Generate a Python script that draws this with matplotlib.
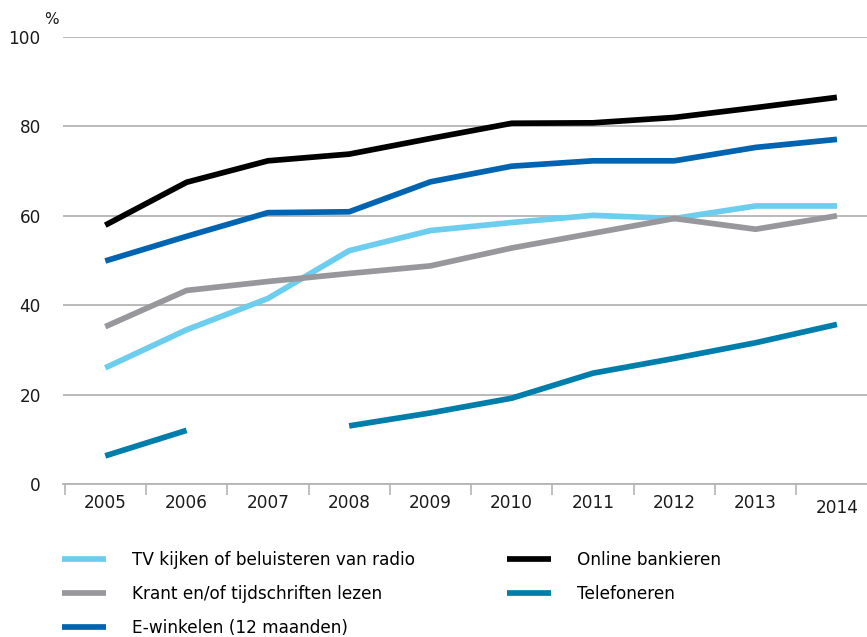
import numpy as np
import matplotlib
matplotlib.use('Agg')
import matplotlib.pyplot as plt

years = ['2005', '2006', '2007', '2008', '2009', '2010', '2011', '2012', '2013', '2014']

tv_radio = [26, 34.5, 41.5, 52.2, 56.7, 58.5, 60.1, 59.4, 62.2, 62.2]
krant = [35.2, 43.3, 45.3, 47.1, 48.8, 52.8, 56.1, 59.4, 57.0, 60.0]
e_winkelen = [49.9, 55.4, 60.7, 60.9, 67.6, 71.1, 72.3, 72.3, 75.3, 77.1]
online_bank = [57.9, 67.5, 72.3, 73.8, 77.3, 80.7, 80.8, 82.0, 84.2, 86.5]
telefoneren = [6.3, 12.0, np.nan, 13.0, 15.9, 19.2, 24.8, 28.1, 31.6, 35.7]

labels = ['TV kijken of beluisteren van radio',
          'Krant en/of tijdschriften lezen',
          'E-winkelen (12 maanden)',
          'Online bankieren',
          'Telefoneren']
colors = ['#6ccdee', '#98989c', '#0064b0', '#000000', '#007eab']

plt.rcParams['font.family'] = ['DejaVu Sans']

fig = plt.figure(figsize=(8.67, 6.37), dpi=100)
ax = fig.add_axes([63 / 867, 1 - 484 / 637, 1 - 63 / 867, (484 - 37) / 637])

x = np.arange(len(years))
series = [tv_radio, krant, e_winkelen, online_bank, telefoneren]
for vals, lab, col in zip(series, labels, colors):
    ax.plot(x, vals, color=col, lw=4.1, label=lab, solid_capstyle='butt',
            solid_joinstyle='round')

ax.set_ylim(0, 100)
ax.set_xlim(-0.52, 9.37)
ax.set_yticks(range(0, 101, 20))
ax.yaxis.grid(True, color='#b4b4b4', lw=1.3)
ax.set_axisbelow(True)
ax.tick_params(axis='y', length=0, pad=16, labelsize=12.2, colors='#1a1a1a')

ax.set_xticks(x)
ax.set_xticklabels(years)
ax.set_xticks(np.arange(-0.5, 9, 1), minor=True)
ax.tick_params(axis='x', which='major', length=0, pad=7, labelsize=12.2,
               colors='#1a1a1a')
ax.tick_params(axis='x', which='minor', length=8, width=1.2, color='#b4b4b4')
ax.get_xticklabels()[-1].set_y(-0.012)

for s in ['top', 'right', 'left']:
    ax.spines[s].set_visible(False)
ax.spines['bottom'].set_color('#b4b4b4')
ax.spines['bottom'].set_linewidth(1.3)

fig.text(44 / 867, 1 - 20 / 637, '%', fontsize=11, color='#1a1a1a',
         va='center', ha='left')

fig.legend(loc='upper left', bbox_to_anchor=(62 / 867, 1 - 551 / 637),
           ncol=2, frameon=False, fontsize=12.2, handlelength=2.6,
           handletextpad=1.55, columnspacing=5.4, labelspacing=0.93,
           borderaxespad=0, borderpad=0)

fig.savefig('out.png', dpi=100)
